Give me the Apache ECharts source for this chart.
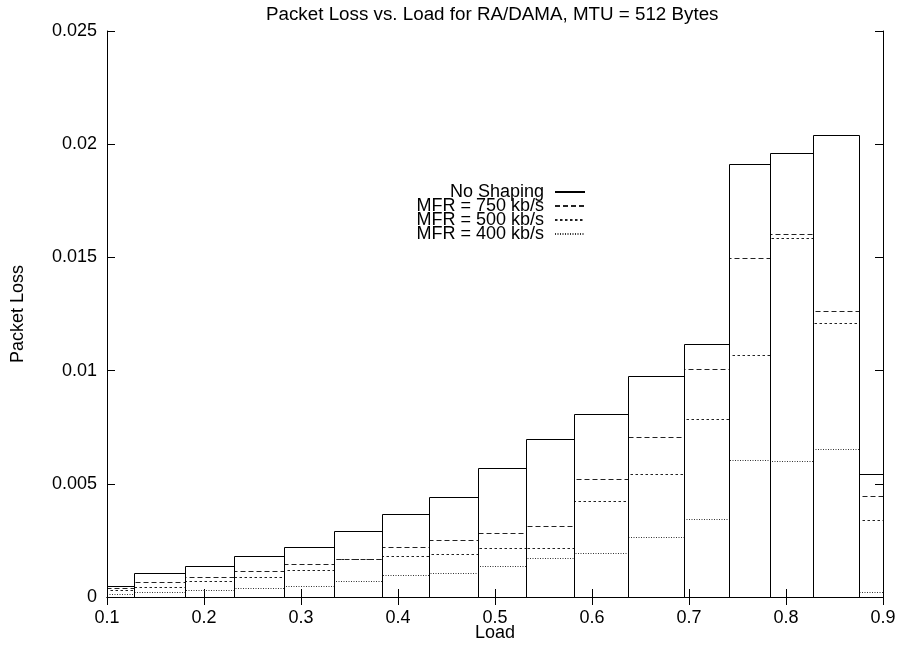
<!DOCTYPE html>
<html>
<head>
<meta charset="utf-8">
<script src="https://cdn.jsdelivr.net/npm/echarts@6/dist/echarts.min.js"></script>
<style>
html,body{margin:0;padding:0;background:#fff;}
#chart{width:900px;height:645px;}
</style>
</head>
<body>
<div id="chart"></div>
<script>
// Box edges along the Load axis (each box spans edges[i]..edges[i+1])
var loadEdges = [0.1, 0.128, 0.180, 0.231, 0.282, 0.334, 0.384, 0.432, 0.482, 0.532, 0.581, 0.6375, 0.695, 0.741, 0.7835, 0.828, 0.8757, 0.9];
var seriesNames = ['No Shaping', 'MFR = 750 kb/s', 'MFR = 500 kb/s', 'MFR = 400 kb/s'];
var noShaping = [0.00050, 0.00105, 0.00137, 0.00182, 0.00222, 0.00290, 0.00365, 0.00440, 0.00570, 0.00697, 0.00810, 0.00975, 0.01116, 0.01911, 0.01961, 0.02042, 0.00543];
var mfr750    = [0.00038, 0.00066, 0.00090, 0.00115, 0.00147, 0.00170, 0.00220, 0.00250, 0.00284, 0.00314, 0.00521, 0.00707, 0.01007, 0.01499, 0.01605, 0.01263, 0.00447];
var mfr500    = [0.00032, 0.00046, 0.00069, 0.00088, 0.00119, 0.00168, 0.00181, 0.00190, 0.00218, 0.00218, 0.00425, 0.00543, 0.00788, 0.01068, 0.01586, 0.01209, 0.00340];
var mfr400    = [0.00012, 0.00022, 0.00031, 0.00038, 0.00047, 0.00072, 0.00096, 0.00105, 0.00137, 0.00171, 0.00193, 0.00266, 0.00345, 0.00604, 0.00599, 0.00655, 0.00021];
var xTicks = [0.1, 0.2, 0.3, 0.4, 0.5, 0.6, 0.7, 0.8, 0.9];
var yTicks = [0, 0.005, 0.01, 0.015, 0.02, 0.025];

var FONT = 'Liberation Sans, Arial, Helvetica, sans-serif';
var FS = 18;
var dashes = [null, [5, 3], [2.5, 2.5], [1, 1.5]];
var colors = ['#000', '#222', '#222', '#333'];
var values = [noShaping, mfr750, mfr500, mfr400];

function boxData(vals) {
  var out = [];
  for (var i = 0; i < vals.length; i++) out.push([loadEdges[i], loadEdges[i + 1], vals[i]]);
  return out;
}

function makeBoxSeries(idx) {
  return {
    type: 'custom',
    name: seriesNames[idx],
    xAxisIndex: 0, yAxisIndex: 0,
    z: 10 - idx,
    silent: true,
    data: boxData(values[idx]),
    encode: { x: [0, 1], y: 2 },
    renderItem: function (params, api) {
      var p0 = api.coord([api.value(0), 0]);
      var p1 = api.coord([api.value(1), api.value(2)]);
      var x0 = Math.round(p0[0]) + 0.5, x1 = Math.round(p1[0]) + 0.5;
      var yb = Math.round(p0[1]) + 0.5, yt = Math.round(p1[1]) + 0.5;
      return {
        type: 'polyline',
        shape: { points: [[x0, yb], [x0, yt], [x1, yt], [x1, yb]] },
        style: { fill: null, stroke: colors[idx], lineWidth: 1, lineDash: dashes[idx] || null }
      };
    }
  };
}

function legendSeries(idx) {
  return {
    type: 'line', name: seriesNames[idx], data: [], symbol: 'none', showSymbol: false,
    xAxisIndex: 0, yAxisIndex: 0,
    lineStyle: { color: colors[idx], width: 1, type: dashes[idx] || 'solid' },
    itemStyle: { color: colors[idx], opacity: 0 }
  };
}

var axisCommon = {
  axisLine: { show: true, lineStyle: { color: '#000', width: 1 } },
  axisTick: { show: true, inside: true, length: 8, lineStyle: { color: '#000', width: 1 } },
  splitLine: { show: false }
};

var chart = echarts.init(document.getElementById('chart'), null, { renderer: 'canvas' });
chart.setOption({
  animation: false,
  backgroundColor: '#fff',
  textStyle: { fontFamily: FONT },
  title: {
    text: 'Packet Loss vs. Load for RA/DAMA, MTU = 512 Bytes',
    left: 261, top: 0,
    textStyle: { fontFamily: FONT, fontSize: 18.8, fontWeight: 'normal', color: '#000' }
  },
  grid: { left: 107, right: 17, top: 31, bottom: 48, show: false, containLabel: false, outerBoundsMode: 'none' },
  legend: {
    data: seriesNames,
    orient: 'vertical', align: 'right',
    right: 309, top: 178,
    itemWidth: 30, itemHeight: 14, itemGap: -4,
    selectedMode: false,
    itemStyle: { opacity: 0 },
    textStyle: { fontFamily: FONT, fontSize: FS, color: '#000', padding: [0, 6, 0, 0] }
  },
  xAxis: [
    Object.assign({}, axisCommon, {
      type: 'value', min: xTicks[0], max: xTicks[xTicks.length - 1], interval: 0.1,
      name: 'Load', nameLocation: 'middle', nameGap: 27, nameMoveOverlap: false,
      nameTextStyle: { fontFamily: FONT, fontSize: FS, color: '#000' },
      axisLabel: { fontFamily: FONT, fontSize: FS, color: '#000', margin: 12,
        formatter: function (v) { return String(+v.toFixed(2)); } }
    }),
    Object.assign({}, axisCommon, {
      type: 'value', position: 'top', min: xTicks[0], max: xTicks[xTicks.length - 1], interval: 0.1,
      axisLabel: { show: false }
    })
  ],
  yAxis: [
    Object.assign({}, axisCommon, {
      type: 'value', min: yTicks[0], max: yTicks[yTicks.length - 1], interval: 0.005,
      name: 'Packet Loss', nameLocation: 'middle', nameGap: 80, nameRotate: 90, nameMoveOverlap: false,
      nameTextStyle: { fontFamily: FONT, fontSize: FS, color: '#000' },
      axisLabel: { fontFamily: FONT, fontSize: FS, color: '#000', margin: 10,
        formatter: function (v) { return String(+v.toFixed(4)); } }
    }),
    Object.assign({}, axisCommon, {
      type: 'value', position: 'right', min: yTicks[0], max: yTicks[yTicks.length - 1], interval: 0.005,
      axisLabel: { show: false }
    })
  ],
  series: [legendSeries(0), legendSeries(1), legendSeries(2), legendSeries(3),
           makeBoxSeries(3), makeBoxSeries(2), makeBoxSeries(1), makeBoxSeries(0)]
});
</script>
</body>
</html>
